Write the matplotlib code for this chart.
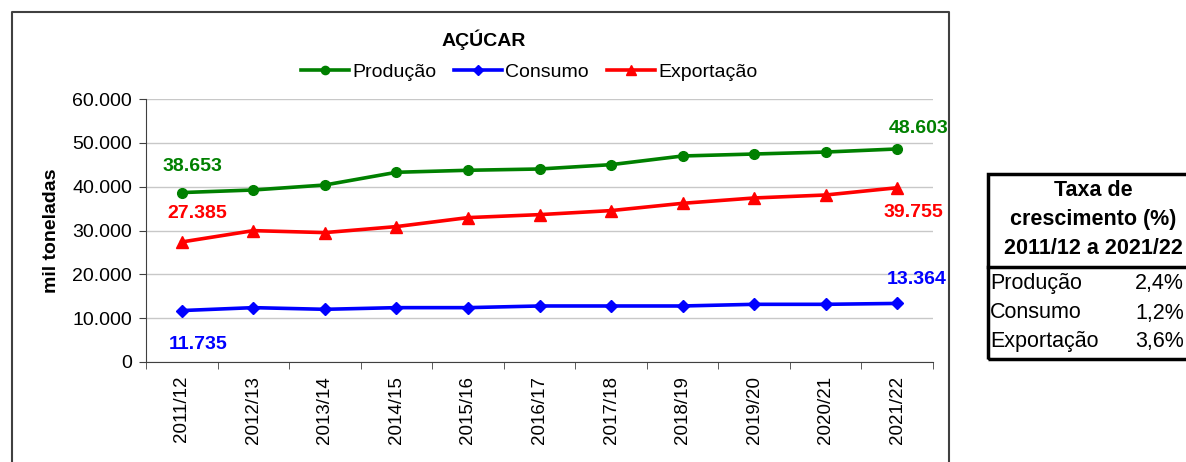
import matplotlib
matplotlib.use("Agg")
import matplotlib.pyplot as plt
from matplotlib.ticker import FuncFormatter, FixedLocator
from matplotlib.lines import Line2D
from matplotlib.patches import Rectangle

plt.rcParams['font.family'] = ['Liberation Sans', 'DejaVu Sans']

# data
safras = ['2011/12', '2012/13', '2013/14', '2014/15', '2015/16', '2016/17',
          '2017/18', '2018/19', '2019/20', '2020/21', '2021/22']
producao = [38653, 39240, 40380, 43280, 43740, 44030, 45020, 47000, 47450, 47900, 48603]
consumo = [11735, 12400, 12020, 12400, 12400, 12780, 12780, 12780, 13160, 13160, 13364]
exportacao = [27385, 29970, 29520, 30890, 32940, 33620, 34540, 36200, 37420, 38100, 39755]

taxa_nomes = ['Produção', 'Consumo', 'Exportação']
taxa_valores = ['2,4%', '1,2%', '3,6%']

W, H = 1186, 462
fig = plt.figure(figsize=(W / 100, H / 100), dpi=100)


def fx(px):
    return px / W


def fy(py):
    return 1 - py / H


# outer frame of the chart (bottom is cut off)
frame = Line2D([fx(12), fx(12), fx(949), fx(949)], [fy(470), fy(12), fy(12), fy(470)],
               transform=fig.transFigure, color='#404040', lw=1.5)
fig.add_artist(frame)

ax = fig.add_axes([fx(146), fy(362), fx(933) - fx(146), fy(99) - fy(362)])
x = list(range(len(safras)))

ax.plot(x, producao, color='#008000', lw=2.6, marker='o', ms=7, label='Produção')
ax.plot(x, consumo, color='#0000FF', lw=2.6, marker='D', ms=6.5, label='Consumo')
ax.plot(x, exportacao, color='#FF0000', lw=2.6, marker='^', ms=8, label='Exportação')

ax.set_xlim(-0.5, len(safras) - 0.5)
ax.set_ylim(0, 60000)
ax.set_yticks(range(0, 60001, 10000))
ax.yaxis.set_major_formatter(FuncFormatter(lambda v, p: f'{int(v):,}'.replace(',', '.')))
ax.set_xticks(x)
ax.set_xticklabels(safras, rotation=90, fontsize=13.5)
ax.xaxis.set_minor_locator(FixedLocator([i - 0.5 for i in range(len(safras) + 1)]))
ax.tick_params(axis='x', which='major', length=0, pad=10)
ax.tick_params(axis='x', which='minor', length=5, color='#404040')
ax.tick_params(axis='y', length=5, color='#404040', labelsize=14, pad=5)
ax.grid(axis='y', color='#c8c8c8', lw=1)
ax.set_axisbelow(True)
for s in ['top', 'right']:
    ax.spines[s].set_visible(False)
for s in ['left', 'bottom']:
    ax.spines[s].set_color('#404040')
ax.set_ylabel('mil toneladas', fontsize=14, fontweight='bold', labelpad=9)


def fmt(v):
    return f'{v:,}'.replace(',', '.')


# data labels on first and last points
lbl = dict(textcoords='offset pixels', ha='center', va='center', fontsize=14, fontweight='bold')
ax.annotate(fmt(producao[0]), (0, producao[0]), xytext=(11, 26), color='#008000', **lbl)
ax.annotate(fmt(exportacao[0]), (0, exportacao[0]), xytext=(15, 28), color='#FF0000', **lbl)
ax.annotate(fmt(consumo[0]), (0, consumo[0]), xytext=(16, -34), color='#0000FF', **lbl)
ax.annotate(fmt(producao[-1]), (10, producao[-1]), xytext=(21, 20), color='#008000', **lbl)
ax.annotate(fmt(exportacao[-1]), (10, exportacao[-1]), xytext=(16, -25), color='#FF0000', **lbl)
ax.annotate(fmt(consumo[-1]), (10, consumo[-1]), xytext=(19, 24), color='#0000FF', **lbl)

fig.text(fx(484), fy(40), 'AÇÚCAR', ha='center', va='center', fontsize=14, fontweight='bold')
fig.legend(loc='center', bbox_to_anchor=(fx(529), fy(72)), ncol=3, frameon=False,
           fontsize=14, handlelength=2.5, handletextpad=0.15, columnspacing=0.9,
           markerscale=0.85)

# growth rate table
fig.add_artist(Rectangle((fx(988), fy(359)), fx(1240) - fx(988), fy(174) - fy(359),
                         transform=fig.transFigure, fill=False, ec='black', lw=2.5))
fig.add_artist(Line2D([fx(988), fx(1240)], [fy(267), fy(267)], transform=fig.transFigure,
                      color='black', lw=2.5))
cab = ['Taxa de', 'crescimento (%)', '2011/12 a 2021/22']
for i, t in enumerate(cab):
    fig.text(fx(1093), fy(191 + i * 28.5), t, ha='center', va='center', fontsize=15.5, fontweight='bold')
for i, (n, v) in enumerate(zip(taxa_nomes, taxa_valores)):
    fig.text(fx(990), fy(284 + i * 29), n, ha='left', va='center', fontsize=15.5)
    fig.text(fx(1184), fy(284 + i * 29), v, ha='right', va='center', fontsize=15.5)

fig.savefig('out.png', dpi=100)
